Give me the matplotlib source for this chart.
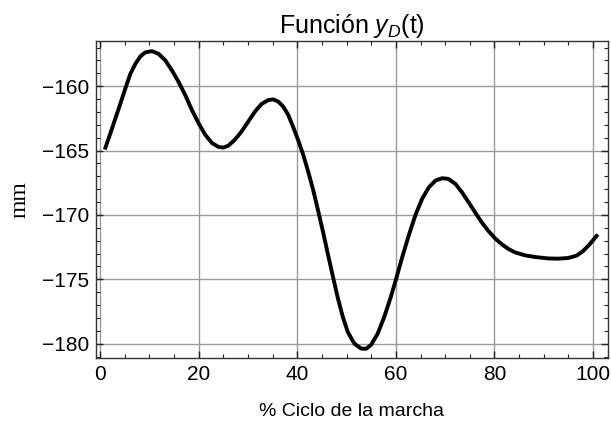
import matplotlib
matplotlib.use('Agg')
import matplotlib.pyplot as plt
from matplotlib.ticker import MultipleLocator

plt.rcParams['font.family'] = ['Liberation Sans', 'DejaVu Sans']
plt.rcParams['mathtext.fontset'] = 'custom'
plt.rcParams['mathtext.rm'] = 'Liberation Sans'
plt.rcParams['mathtext.it'] = 'Liberation Sans:italic'

# % del ciclo de la marcha y posicion vertical y_D en mm
ciclo = [1.0, 2.15, 3.16, 4.18, 5.32, 6.2, 7.2, 8.2, 9.2, 10.57, 11.9,
         13.27, 14.6, 15.96, 17.3, 18.65, 20.0, 21.35, 22.7, 24.04, 25.05,
         26.06, 27.4, 28.75, 30.1, 31.45, 32.8, 34.14, 35.15, 36.16, 37.17,
         38.18, 39.19, 40.2, 41.2, 42.2, 43.2, 44.2, 45.23, 46.2, 47.25,
         48.26, 49.26, 50.27, 51.6, 52.95, 53.96, 54.97, 56.3, 57.65, 58.99,
         60.0, 61.34, 62.68, 64.03, 65.37, 66.71, 68.05, 69.4, 70.6, 72.08,
         73.42, 74.77, 76.1, 77.45, 78.8, 80.13, 81.48, 82.8, 84.16, 86.17,
         88.2, 90.87, 92.88, 94.9, 96.6, 97.9, 99.26, 100.94]
y_d = [-164.92, -163.64, -162.49, -161.33, -160.0, -159.03, -158.26,
       -157.69, -157.38, -157.28, -157.49, -158.0, -158.77, -159.67,
       -160.69, -161.85, -162.87, -163.77, -164.41, -164.72, -164.77,
       -164.62, -164.15, -163.51, -162.74, -161.97, -161.38, -161.08,
       -161.03, -161.2, -161.59, -162.23, -163.18, -164.2, -165.3,
       -166.6, -168.0, -169.6, -171.3, -173.0, -174.8, -176.49,
       -177.93, -179.11, -180.0, -180.38, -180.4, -180.1, -179.24,
       -177.93, -176.36, -175.05, -173.22, -171.52, -169.95, -168.72,
       -167.85, -167.33, -167.15, -167.2, -167.59, -168.25, -169.03,
       -169.82, -170.6, -171.26, -171.83, -172.28, -172.64, -172.91,
       -173.14, -173.27, -173.38, -173.4, -173.35, -173.17, -172.83,
       -172.3, -171.52]

xticks = [0, 20, 40, 60, 80, 100]
yticks = [-160, -165, -170, -175, -180]

fig = plt.figure(figsize=(6.11, 4.28), dpi=100)
ax = fig.add_axes([0.157, 0.164, 0.838, 0.740])

ax.plot(ciclo, y_d, color='black', lw=2.8, solid_joinstyle='round',
        solid_capstyle='butt', zorder=3)

ax.set_xlim(-0.8, 103.0)
ax.set_ylim(-181.1, -156.5)
ax.set_xticks(xticks)
ax.set_yticks(yticks)
ax.xaxis.set_minor_locator(MultipleLocator(5))
ax.yaxis.set_minor_locator(MultipleLocator(1))
ax.grid(True, which='major', color='#9a9a9a', lw=1.0)
ax.set_axisbelow(True)

ax.tick_params(which='both', direction='in', top=True, right=True,
               labelsize=15, colors='#222222', labelcolor='black')
ax.tick_params(which='major', length=5, width=1, pad=5)
ax.tick_params(which='minor', length=3, width=0.8)
for s in ax.spines.values():
    s.set_color('#333333')
    s.set_linewidth(1.0)

ax.set_title('Función $y_D$(t)', fontsize=18, pad=6)
ax.set_xlabel('% Ciclo de la marcha', fontsize=14, labelpad=14)
ax.set_ylabel('mm', fontsize=17, family=['Liberation Serif'], labelpad=8)

fig.savefig('out.png', dpi=100)
